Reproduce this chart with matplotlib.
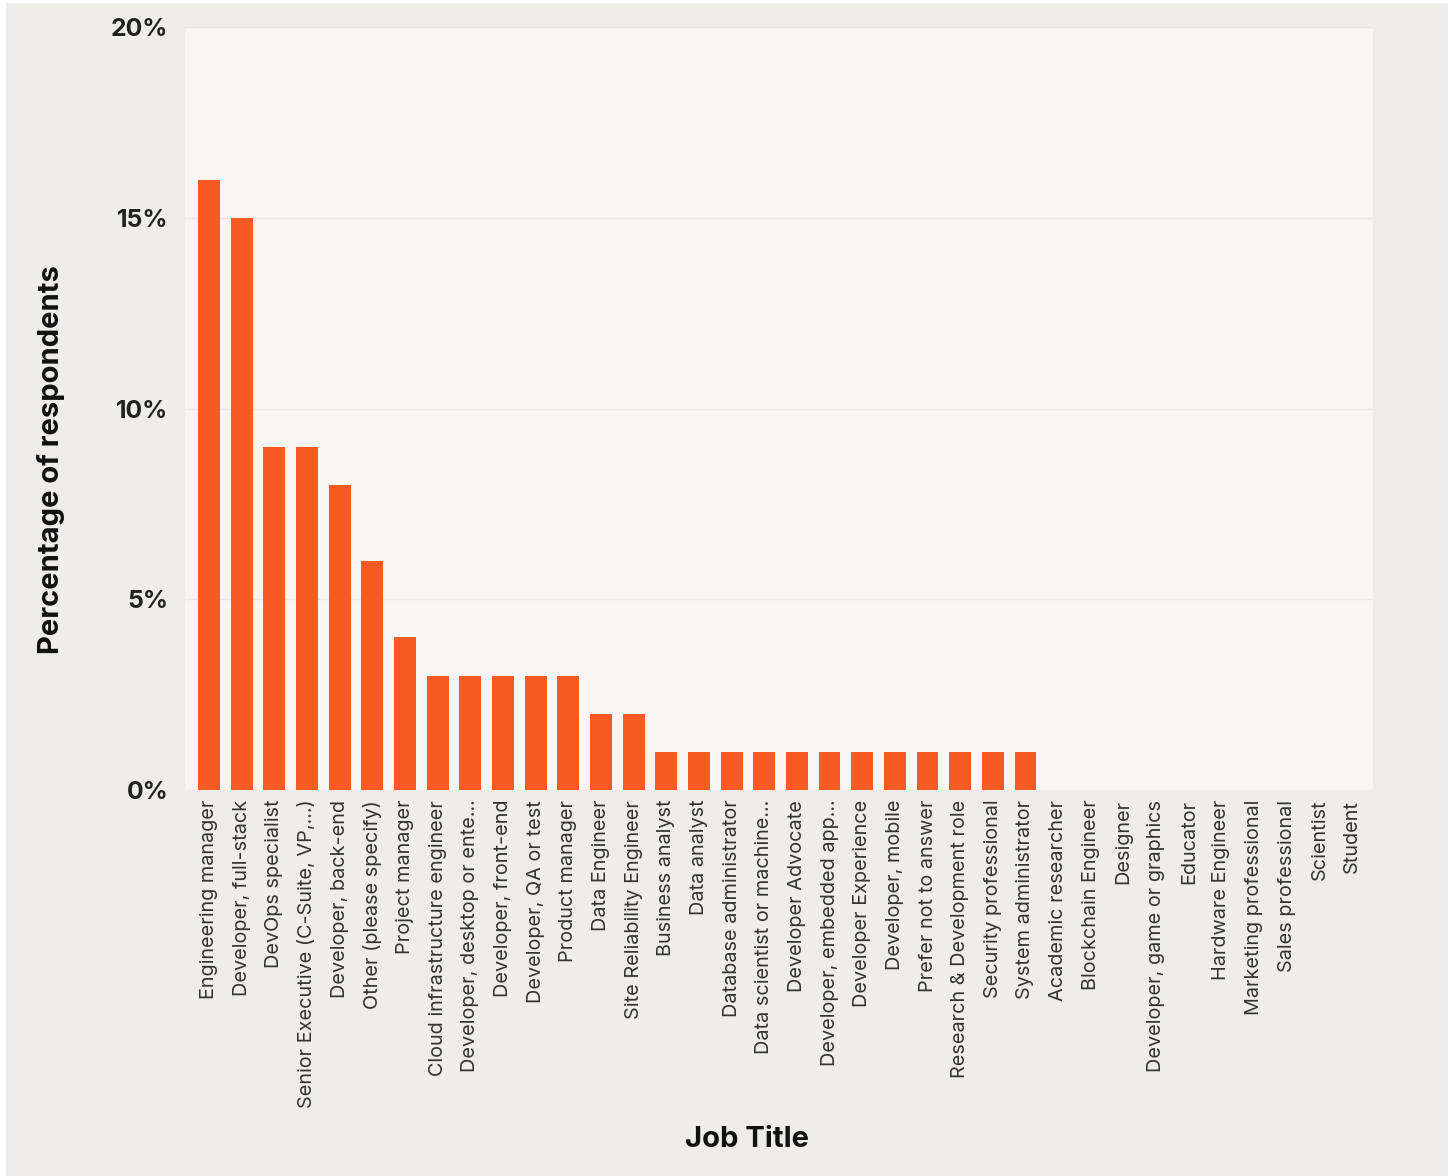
import matplotlib
matplotlib.use("Agg")
import matplotlib.pyplot as plt
from matplotlib.patches import Rectangle

categories = [
    "Engineering manager", "Developer, full-stack", "DevOps specialist",
    "Senior Executive (C-Suite, VP,...)", "Developer, back-end", "Other (please specify)",
    "Project manager", "Cloud infrastructure engineer", "Developer, desktop or ente...",
    "Developer, front-end", "Developer, QA or test", "Product manager",
    "Data Engineer", "Site Reliability Engineer", "Business analyst", "Data analyst",
    "Database administrator", "Data scientist or machine...", "Developer Advocate",
    "Developer, embedded app...", "Developer Experience", "Developer, mobile",
    "Prefer not to answer", "Research & Development role", "Security professional",
    "System administrator", "Academic researcher", "Blockchain Engineer", "Designer",
    "Developer, game or graphics", "Educator", "Hardware Engineer",
    "Marketing professional", "Sales professional", "Scientist", "Student",
]
values = [16, 15, 9, 9, 8, 6, 4, 3, 3, 3, 3, 3, 2, 2,
          1, 1, 1, 1, 1, 1, 1, 1, 1, 1, 1, 1,
          0, 0, 0, 0, 0, 0, 0, 0, 0, 0]
yticks = [0, 5, 10, 15, 20]
ytick_labels = ["0%", "5%", "10%", "15%", "20%"]

plt.rcParams['font.family'] = ['Inter', 'DejaVu Sans']

W, H = 1448, 1176
fig = plt.figure(figsize=(W / 100, H / 100), dpi=100, facecolor="white")
fig.patches.append(Rectangle((6 / W, 0), 1 - 6 / W, 1 - 3 / H, transform=fig.transFigure,
                             facecolor="#eeedea", edgecolor="none", zorder=-10))

left, right, top, bottom = 185, 1373, 27, 790
ax = fig.add_axes([left / W, 1 - bottom / H, (right - left) / W, (bottom - top) / H])
ax.set_facecolor("#f7f6f4")

x = list(range(len(categories)))
ax.bar(x, values, width=0.67, color="#f75b23", edgecolor="none", zorder=3)

ax.set_xlim(-0.735, 35.64)
ax.set_ylim(0, 20)
ax.set_yticks(yticks)
ax.set_yticklabels(ytick_labels, fontsize=17.8, fontweight="bold", color="#222222")
ax.set_xticks(x)
ax.set_xticklabels(categories, rotation=90, fontsize=14.3, color="#333333")
ax.tick_params(axis="both", length=0)
ax.tick_params(axis="y", pad=12)
ax.tick_params(axis="x", pad=7)
for s in ax.spines.values():
    s.set_visible(False)
ax.grid(axis="y", color="#e9e8e5", linewidth=1, zorder=0)
ax.set_axisbelow(True)

ax.set_ylabel("Percentage of respondents", fontsize=21, fontweight="bold", color="#111111")
ax.yaxis.set_label_coords((65 - left) / (right - left), (bottom - 460) / (bottom - top))
ax.set_xlabel("Job Title", fontsize=21, fontweight="bold", color="#111111")
ax.xaxis.set_label_coords((747 - left) / (right - left), -(1126 - bottom) / (bottom - top))

fig.savefig("out.png", dpi=100, facecolor=fig.get_facecolor())
